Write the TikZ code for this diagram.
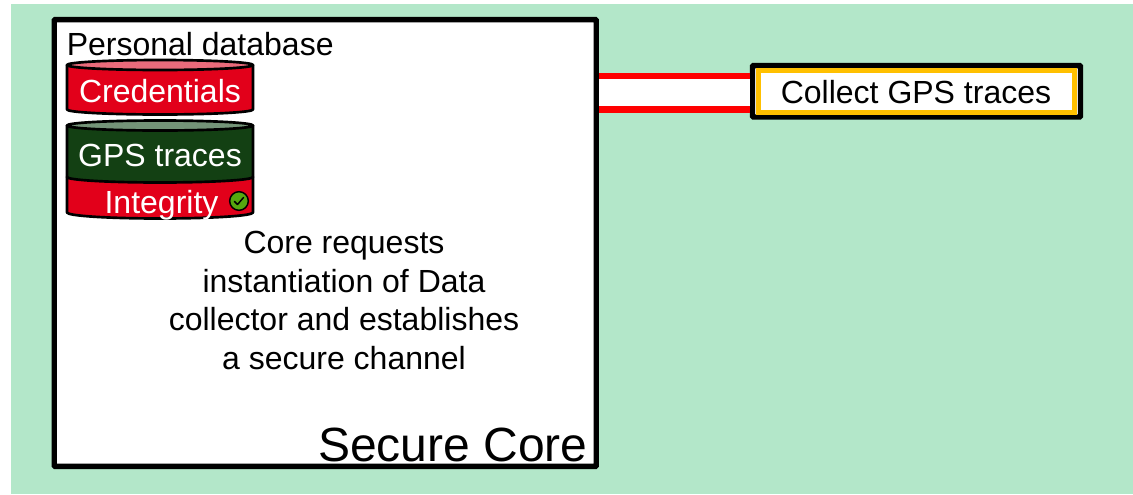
\documentclass[tikz,border=0pt]{standalone}
\usepackage{fontspec}
\setmainfont{Liberation Sans}

\definecolor{bggreen}{HTML}{B3E7C9}
\definecolor{credred}{HTML}{E2001A}
\definecolor{credtop}{HTML}{EA6B7B}
\definecolor{gpsgreen}{HTML}{134013}
\definecolor{gpstop}{HTML}{749478}
\definecolor{okgreen}{HTML}{55A80F}
\definecolor{boxorange}{HTML}{FFC000}

\def\cylL{67}
\def\cylR{253}
\def\cylrx{93}

\begin{document}
\begin{tikzpicture}[x=0.75pt, y=-0.75pt]
	\tikzset{box/.style={draw=black, fill=white, line width=4.1pt, inner sep=0pt, rounded corners=0.8pt},
		txt/.style={font=\fontsize{24}{29}\selectfont, inner sep=0pt},
		cyl/.style={draw=black, line width=2pt, line join=round},
		channel/.style={draw=red, line width=4.9pt, double=white, double distance=20pt}}
	\useasboundingbox (0,0) rectangle (1133,494);
	\fill[bggreen] (11,4) rectangle (1133,494);

	\node[box, minimum width=406.5pt, minimum height=335.2pt] (core) at (325.25,243) {};
	\node[box, minimum width=246pt, minimum height=38.6pt] (collector) at (916.5,91.25) {};
	\node[draw=boxorange, fill=white, line width=3.6pt, inner sep=0pt, minimum width=237.5pt, minimum height=31pt] (collectorin) at (916.5,91.5) {};
	\node[txt] (collecttxt) at (916,92) {Collect GPS traces};

	\coordinate (chanL) at (core.east |- 0,92.7);
	\coordinate (chanR) at (collector.west |- 0,92.7);
	\draw[channel] (chanL) -- (chanR);

	\node[txt, anchor=west] (dbtxt) at (66.5,44) {Personal database};

	% credentials
	\draw[cyl, fill=credred] (\cylL,65) -- (\cylL,109.5) arc[start angle=180, end angle=0, x radius=\cylrx, y radius=5] -- (\cylR,65) -- cycle;
	\draw[cyl, fill=credtop] (160,65) ellipse[x radius=\cylrx, y radius=5];
	\node[txt, text=white] (credtxt) at (160,91) {Credentials};

	% gps traces and integrity
	\draw[cyl, fill=credred] (\cylL,177) -- (\cylL,212.5) arc[start angle=180, end angle=0, x radius=\cylrx, y radius=6] -- (\cylR,177) -- cycle;
	\draw[cyl, fill=gpsgreen] (\cylL,125.5) -- (\cylL,177) arc[start angle=180, end angle=0, x radius=\cylrx, y radius=5.5] -- (\cylR,125.5) -- cycle;
	\draw[cyl, fill=gpstop] (160,125.5) ellipse[x radius=\cylrx, y radius=5];
	\node[txt, text=white] (gpstxt) at (160,155) {GPS traces};
	\node[txt, text=white] (integtxt) at (161.5,205) {Integrity};
	\node[circle, draw=black, fill=okgreen, line width=1.1pt, minimum size=14pt, inner sep=0pt] (okmark) at (239,201) {};
	\draw[line width=1.1pt, line cap=round, line join=round] (234.5,201.5) -- (237.5,204.5) -- (243.5,197.5);

	\node[txt, align=center] (coretxt) at (344,300.5) {Core requests\\instantiation of Data\\collector and establishes\\a secure channel};
	\node[txt, anchor=east, font=\fontsize{36}{43}\selectfont] (corename) at (588,444.5) {Secure Core};
\end{tikzpicture}
\end{document}
